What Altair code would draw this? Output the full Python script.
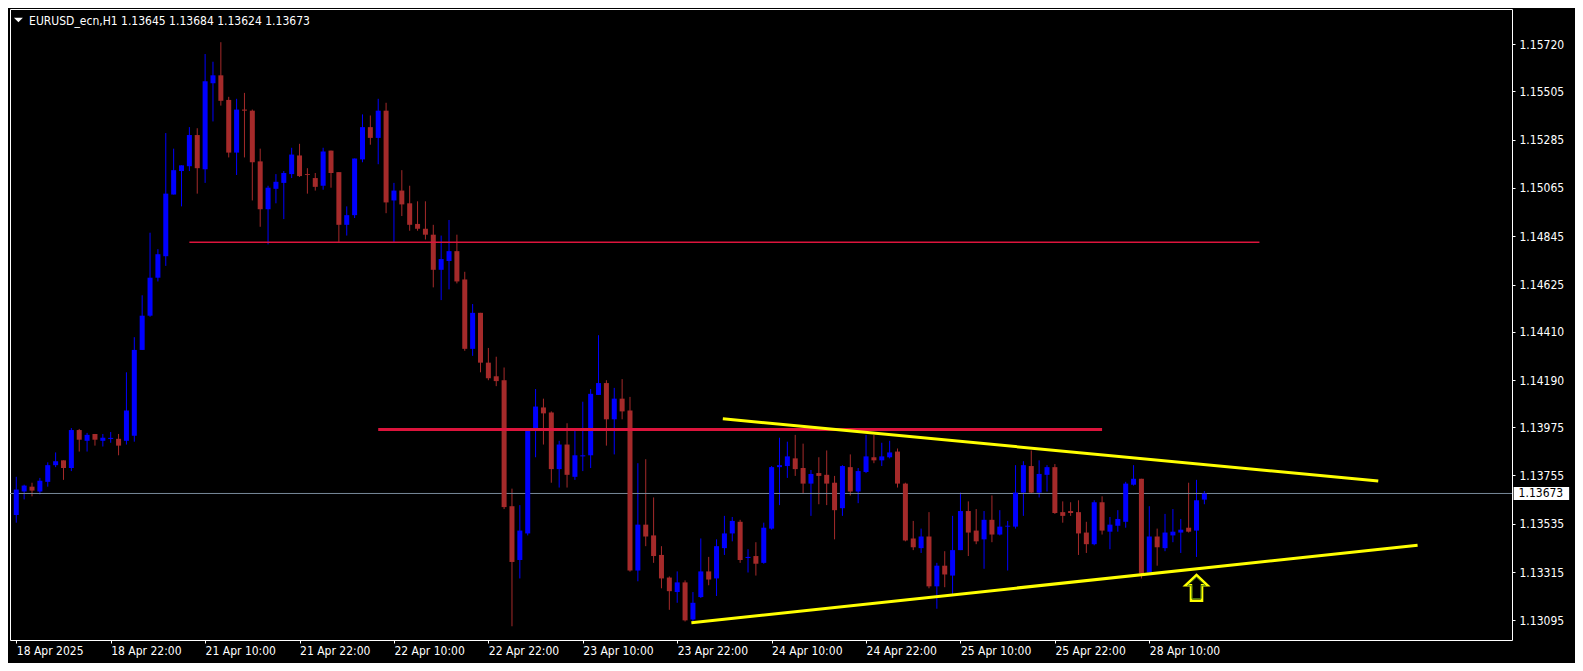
import altair as alt
import pandas as pd

# ---------------- data ----------------
opens = [1.13575, 1.13682, 1.13704, 1.13682, 1.13726, 1.13802, 1.13824, 1.13789, 1.13962, 1.13913,
         1.13944, 1.13913, 1.13922, 1.13922, 1.13913, 1.13936, 1.14327, 1.14483, 1.14656, 1.14754,
         1.15035, 1.15142, 1.15164, 1.15306, 1.15150, 1.15542, 1.15578, 1.15466, 1.15226, 1.15422,
         1.15417, 1.15186, 1.14968, 1.15061, 1.15088, 1.15128, 1.15213, 1.15128, 1.15110, 1.15075,
         1.15235, 1.15137, 1.14897, 1.14941, 1.15195, 1.15342, 1.15293, 1.15417, 1.15008, 1.15053,
         1.14995, 1.14901, 1.14879, 1.14852, 1.14692, 1.14732, 1.14777, 1.14648, 1.14332, 1.14496,
         1.14269, 1.14207, 1.14189, 1.13615, 1.13370, 1.13491, 1.13971, 1.14065, 1.14042, 1.13784,
         1.13896, 1.13749, 1.13842, 1.13847, 1.14122, 1.14176, 1.14011, 1.14105, 1.14051, 1.13322,
         1.13531, 1.13482, 1.13393, 1.13290, 1.13224, 1.13268, 1.13099, 1.13201, 1.13318, 1.13286,
         1.13424, 1.13491, 1.13544, 1.13379, 1.13388, 1.13357, 1.13513, 1.13793, 1.13798, 1.13833,
         1.13789, 1.13718, 1.13766, 1.13758, 1.13722, 1.13606, 1.13793, 1.13682, 1.13771, 1.13838,
         1.13824, 1.13838, 1.13864, 1.13718, 1.13468, 1.13424, 1.13477, 1.13250, 1.13344, 1.13299,
         1.13415, 1.13593, 1.13504, 1.13464, 1.13553, 1.13486, 1.13522, 1.13522, 1.13677, 1.13798,
         1.13677, 1.13758, 1.13793, 1.13588, 1.13593, 1.13588, 1.13495, 1.13442, 1.13633, 1.13499,
         1.13526, 1.13544, 1.13713, 1.13740, 1.13313, 1.13477, 1.13424, 1.13482, 1.13495, 1.13517,
         1.13504, 1.13645]
highs = [1.13749, 1.13713, 1.13722, 1.13744, 1.13815, 1.13860, 1.13824, 1.13971, 1.13967, 1.13949,
         1.13944, 1.13944, 1.13953, 1.13944, 1.14225, 1.14385, 1.14576, 1.14861, 1.14786, 1.15315,
         1.15244, 1.15168, 1.15342, 1.15337, 1.15675, 1.15640, 1.15729, 1.15480, 1.15471, 1.15498,
         1.15422, 1.15244, 1.15075, 1.15128, 1.15142, 1.15248, 1.15266, 1.15155, 1.15133, 1.15248,
         1.15235, 1.15137, 1.14981, 1.15199, 1.15400, 1.15395, 1.15471, 1.15453, 1.15088, 1.15146,
         1.15075, 1.15004, 1.15004, 1.14897, 1.14848, 1.14919, 1.14852, 1.14683, 1.14536, 1.14496,
         1.14336, 1.14296, 1.14247, 1.13695, 1.13620, 1.13971, 1.14149, 1.14105, 1.14047, 1.13913,
         1.13993, 1.13962, 1.14091, 1.14149, 1.14394, 1.14189, 1.14154, 1.14194, 1.14113, 1.13811,
         1.13829, 1.13655, 1.13433, 1.13295, 1.13318, 1.13277, 1.13224, 1.13468, 1.13384, 1.13464,
         1.13571, 1.13566, 1.13553, 1.13419, 1.13451, 1.13540, 1.13798, 1.13927, 1.13909, 1.13940,
         1.13900, 1.13780, 1.13838, 1.13869, 1.13753, 1.13802, 1.13851, 1.13789, 1.13940, 1.13940,
         1.13904, 1.13913, 1.13878, 1.13722, 1.13548, 1.13513, 1.13588, 1.13357, 1.13410, 1.13571,
         1.13677, 1.13637, 1.13602, 1.13593, 1.13664, 1.13597, 1.13548, 1.13802, 1.13820, 1.13869,
         1.13824, 1.13802, 1.13807, 1.13637, 1.13633, 1.13642, 1.13544, 1.13642, 1.13660, 1.13566,
         1.13597, 1.13726, 1.13802, 1.13740, 1.13615, 1.13513, 1.13580, 1.13602, 1.13557, 1.13722,
         1.13735, 1.13684]
lows = [1.13540, 1.13646, 1.13660, 1.13669, 1.13704, 1.13793, 1.13735, 1.13775, 1.13864, 1.13864,
        1.13891, 1.13887, 1.13904, 1.13847, 1.13896, 1.13909, 1.14327, 1.14478, 1.14639, 1.14710,
        1.15035, 1.14981, 1.15142, 1.15039, 1.15088, 1.15368, 1.15440, 1.15204, 1.15124, 1.15204,
        1.15008, 1.14888, 1.14808, 1.14995, 1.14923, 1.15110, 1.15115, 1.15039, 1.15053, 1.15057,
        1.15066, 1.14817, 1.14848, 1.14928, 1.15182, 1.15262, 1.15173, 1.14950, 1.14817, 1.14937,
        1.14870, 1.14870, 1.14830, 1.14612, 1.14554, 1.14603, 1.14630, 1.14323, 1.14300, 1.14225,
        1.14189, 1.14162, 1.13602, 1.13068, 1.13286, 1.13482, 1.13838, 1.13896, 1.13722, 1.13700,
        1.13700, 1.13735, 1.13775, 1.13789, 1.14122, 1.13891, 1.13851, 1.14011, 1.13317, 1.13273,
        1.13433, 1.13357, 1.13241, 1.13143, 1.13175, 1.13090, 1.13092, 1.13197, 1.13255, 1.13206,
        1.13393, 1.13455, 1.13357, 1.13313, 1.13299, 1.13353, 1.13508, 1.13620, 1.13744, 1.13753,
        1.13673, 1.13571, 1.13624, 1.13620, 1.13464, 1.13571, 1.13664, 1.13629, 1.13766, 1.13811,
        1.13798, 1.13833, 1.13700, 1.13455, 1.13415, 1.13402, 1.13241, 1.13148, 1.13246, 1.13215,
        1.13415, 1.13388, 1.13442, 1.13330, 1.13451, 1.13482, 1.13322, 1.13513, 1.13571, 1.13673,
        1.13655, 1.13682, 1.13580, 1.13540, 1.13571, 1.13393, 1.13402, 1.13437, 1.13486, 1.13419,
        1.13499, 1.13517, 1.13709, 1.13286, 1.13313, 1.13344, 1.13410, 1.13451, 1.13402, 1.13495,
        1.13384, 1.13624]
closes = [1.13691, 1.13709, 1.13686, 1.13731, 1.13802, 1.13820, 1.13789, 1.13962, 1.13918, 1.13940,
          1.13918, 1.13927, 1.13924, 1.13891, 1.14051, 1.14327, 1.14483, 1.14656, 1.14763, 1.15039,
          1.15146, 1.15168, 1.15306, 1.15155, 1.15551, 1.15578, 1.15462, 1.15226, 1.15422, 1.15417,
          1.15182, 1.14968, 1.15066, 1.15093, 1.15133, 1.15217, 1.15119, 1.15124, 1.15070, 1.15231,
          1.15133, 1.14897, 1.14941, 1.15199, 1.15342, 1.15293, 1.15417, 1.14999, 1.15053, 1.14990,
          1.14897, 1.14879, 1.14852, 1.14692, 1.14741, 1.14777, 1.14639, 1.14332, 1.14496, 1.14269,
          1.14198, 1.14185, 1.13611, 1.13361, 1.13504, 1.13971, 1.14069, 1.14038, 1.13784, 1.13896,
          1.13758, 1.13847, 1.13847, 1.14127, 1.14176, 1.14011, 1.14105, 1.14047, 1.13322, 1.13531,
          1.13477, 1.13388, 1.13286, 1.13228, 1.13268, 1.13095, 1.13175, 1.13318, 1.13281, 1.13433,
          1.13491, 1.13548, 1.13370, 1.13384, 1.13353, 1.13517, 1.13793, 1.13802, 1.13842, 1.13784,
          1.13718, 1.13762, 1.13753, 1.13718, 1.13597, 1.13798, 1.13682, 1.13775, 1.13842, 1.13824,
          1.13842, 1.13860, 1.13718, 1.13459, 1.13428, 1.13477, 1.13250, 1.13344, 1.13304, 1.13415,
          1.13593, 1.13495, 1.13455, 1.13553, 1.13486, 1.13522, 1.13526, 1.13677, 1.13802, 1.13677,
          1.13762, 1.13793, 1.13584, 1.13571, 1.13584, 1.13491, 1.13442, 1.13633, 1.13504, 1.13531,
          1.13557, 1.13718, 1.13740, 1.13308, 1.13477, 1.13428, 1.13495, 1.13499, 1.13508, 1.13499,
          1.13642, 1.13673]

date_ticks = [0, 12, 24, 36, 48, 60, 72, 84, 96, 108, 120, 132, 144]
date_labels = ["18 Apr 2025", "18 Apr 22:00", "21 Apr 10:00", "21 Apr 22:00", "22 Apr 10:00",
               "22 Apr 22:00", "23 Apr 10:00", "23 Apr 22:00", "24 Apr 10:00", "24 Apr 22:00",
               "25 Apr 10:00", "25 Apr 22:00", "28 Apr 10:00"]
price_ticks = [1.15720, 1.15505, 1.15285, 1.15065, 1.14845, 1.14625, 1.14410, 1.14190,
               1.13975, 1.13755, 1.13535, 1.13315, 1.13095]
last_close = 1.13673
title_text = "EURUSD_ecn,H1  1.13645 1.13684 1.13624 1.13673"

level1_price, level1_from, level1_to = 1.14817, 22, 158
level2_price, level2_from, level2_to = 1.13965, 46, 138
upper_bars = [89.8, 173.1]
upper_prices = [1.14013, 1.13730]
lower_bars = [85.8, 178.1]
lower_prices = [1.13084, 1.13437]
arrow_bar, arrow_price = 150, 1.13243

# ---------------- chart ----------------
FONT = "'DejaVu Sans Condensed', 'DejaVu Sans'"
BLUE = "#0000FF"
BROWN = "#A52A2A"

candles = pd.DataFrame({"bar": list(range(len(opens))), "o": opens, "h": highs,
                        "l": lows, "c": closes})

xs = alt.Scale(domain=[-0.1625, 189.4625], nice=False, zero=False)
ys = alt.Scale(domain=[1.130055, 1.158802], nice=False, zero=False)

label_js = "[" + ",".join("'%s'" % s for s in date_labels) + "][round(datum.value / 12)]"
x_axis = alt.Axis(values=date_ticks, labelExpr=label_js, domain=False, grid=False,
                  ticks=True, tickColor="white", tickSize=3, tickWidth=1,
                  labelColor="white", labelFont=FONT, labelFontSize=12,
                  labelAlign="left", labelBaseline="top", labelPadding=2,
                  labelFlush=False, labelOverlap=False, labelBound=False, title=None)
y_axis = alt.Axis(orient="right", values=price_ticks, format=".5f", domain=False, grid=False,
                  ticks=True, tickColor="white", tickSize=3, tickWidth=1,
                  labelColor="white", labelFont=FONT, labelFontSize=12,
                  labelPadding=4, labelBaseline="middle", labelAlign="left",
                  labelFlush=False, labelOverlap=False, labelBound=False, title=None)


def X(field):
    return alt.X(field, type="quantitative", scale=xs, axis=x_axis)


def Y(field):
    return alt.Y(field, type="quantitative", scale=ys, axis=y_axis)


col = alt.condition("datum.c >= datum.o", alt.value(BLUE), alt.value(BROWN))

wicks = alt.Chart(candles).mark_rule(strokeWidth=1).encode(
    x=X("bar"), y=Y("l"), y2="h:Q", color=col)

price_line = alt.Chart(pd.DataFrame({"p": [last_close]})).mark_rule(
    color="#778899", strokeWidth=1).encode(y=Y("p"))

bodies = alt.Chart(candles).mark_bar(size=5).encode(
    x=X("bar"), y=Y("o"), y2="c:Q", color=col)

dojis = alt.Chart(candles).transform_filter(
    "abs(datum.c - datum.o) < 0.00004"
).transform_calculate(x0="datum.bar - 0.31", x1="datum.bar + 0.31").mark_rule(
    strokeWidth=1).encode(x=X("x0"), x2="x1:Q", y=Y("c"), color=col)

lvl1 = alt.Chart(pd.DataFrame({"p": [level1_price], "b0": [level1_from], "b1": [level1_to]})
                 ).mark_rule(color="#DC143C", strokeWidth=1.5).encode(
    x=X("b0"), x2="b1:Q", y=Y("p"))
lvl2 = alt.Chart(pd.DataFrame({"p": [level2_price], "b0": [level2_from], "b1": [level2_to]})
                 ).mark_rule(color="#DC143C", strokeWidth=3).encode(
    x=X("b0"), x2="b1:Q", y=Y("p"))

trend_df = pd.DataFrame({"b0": [upper_bars[0], lower_bars[0]], "b1": [upper_bars[1], lower_bars[1]],
                         "p0": [upper_prices[0], lower_prices[0]],
                         "p1": [upper_prices[1], lower_prices[1]]})
trends = alt.Chart(trend_df).mark_rule(color="#FFFF00", strokeWidth=3).encode(
    x=X("b0"), x2="b1:Q", y=Y("p0"), y2="p1:Q")

arrow_path = "M0,-1.18 L1,-0.24 L0.51,-0.24 L0.51,1.18 L-0.51,1.18 L-0.51,-0.24 L-1,-0.24 Z"
arrow_df = pd.DataFrame({"bar": [arrow_bar], "p": [arrow_price]})
arrow = alt.Chart(arrow_df).mark_point(shape=arrow_path, size=475, filled=False,
                                       stroke="#FFFF00", strokeWidth=2.5, opacity=1).encode(
    x=X("bar"), y=Y("p"))
arrow_inner = alt.Chart(arrow_df).mark_point(shape=arrow_path, size=330, filled=False,
                                             stroke="#4f7f10", strokeWidth=1, opacity=1).encode(
    x=X("bar"), y=Y("p"))

one = pd.DataFrame({"t": [title_text]})
title = alt.Chart(one).mark_text(align="left", baseline="alphabetic", font=FONT,
                                 fontSize=12, color="white").encode(
    x=alt.value(19.1), y=alt.value(15.6), text="t:N")
tri = alt.Chart(one).mark_point(shape="M-1,-0.52 L1,-0.52 L0,0.52 Z", size=79, filled=True,
                                color="white", opacity=1, strokeWidth=0).encode(
    x=alt.value(8.4), y=alt.value(11))

price_df = pd.DataFrame({"p": [last_close]})
box = alt.Chart(price_df).mark_point(shape="M-1,-0.238 L1,-0.238 L1,0.238 L-1,0.238 Z",
                                     size=3080, filled=True, color="white", opacity=1,
                                     strokeWidth=0).encode(
    x=alt.value(1531.4), y=Y("p"))
box_text = alt.Chart(price_df).mark_text(align="left", baseline="middle", font=FONT,
                                         fontSize=12, color="black").encode(
    x=alt.value(1508.6), y=Y("p"), text=alt.Text("p:Q", format=".5f"))

chart = alt.layer(wicks, price_line, bodies, dojis, lvl1, lvl2, trends, arrow, arrow_inner,
                  title, tri, box, box_text).properties(
    width=1502, height=631, background="black",
    autosize=alt.AutoSizeParams(type="none"),
    padding={"left": 2, "top": 1, "right": 63, "bottom": 23},
).configure_view(stroke="white", strokeWidth=1)

chart.save("out.html", embed_options={"renderer": "svg", "actions": False})
